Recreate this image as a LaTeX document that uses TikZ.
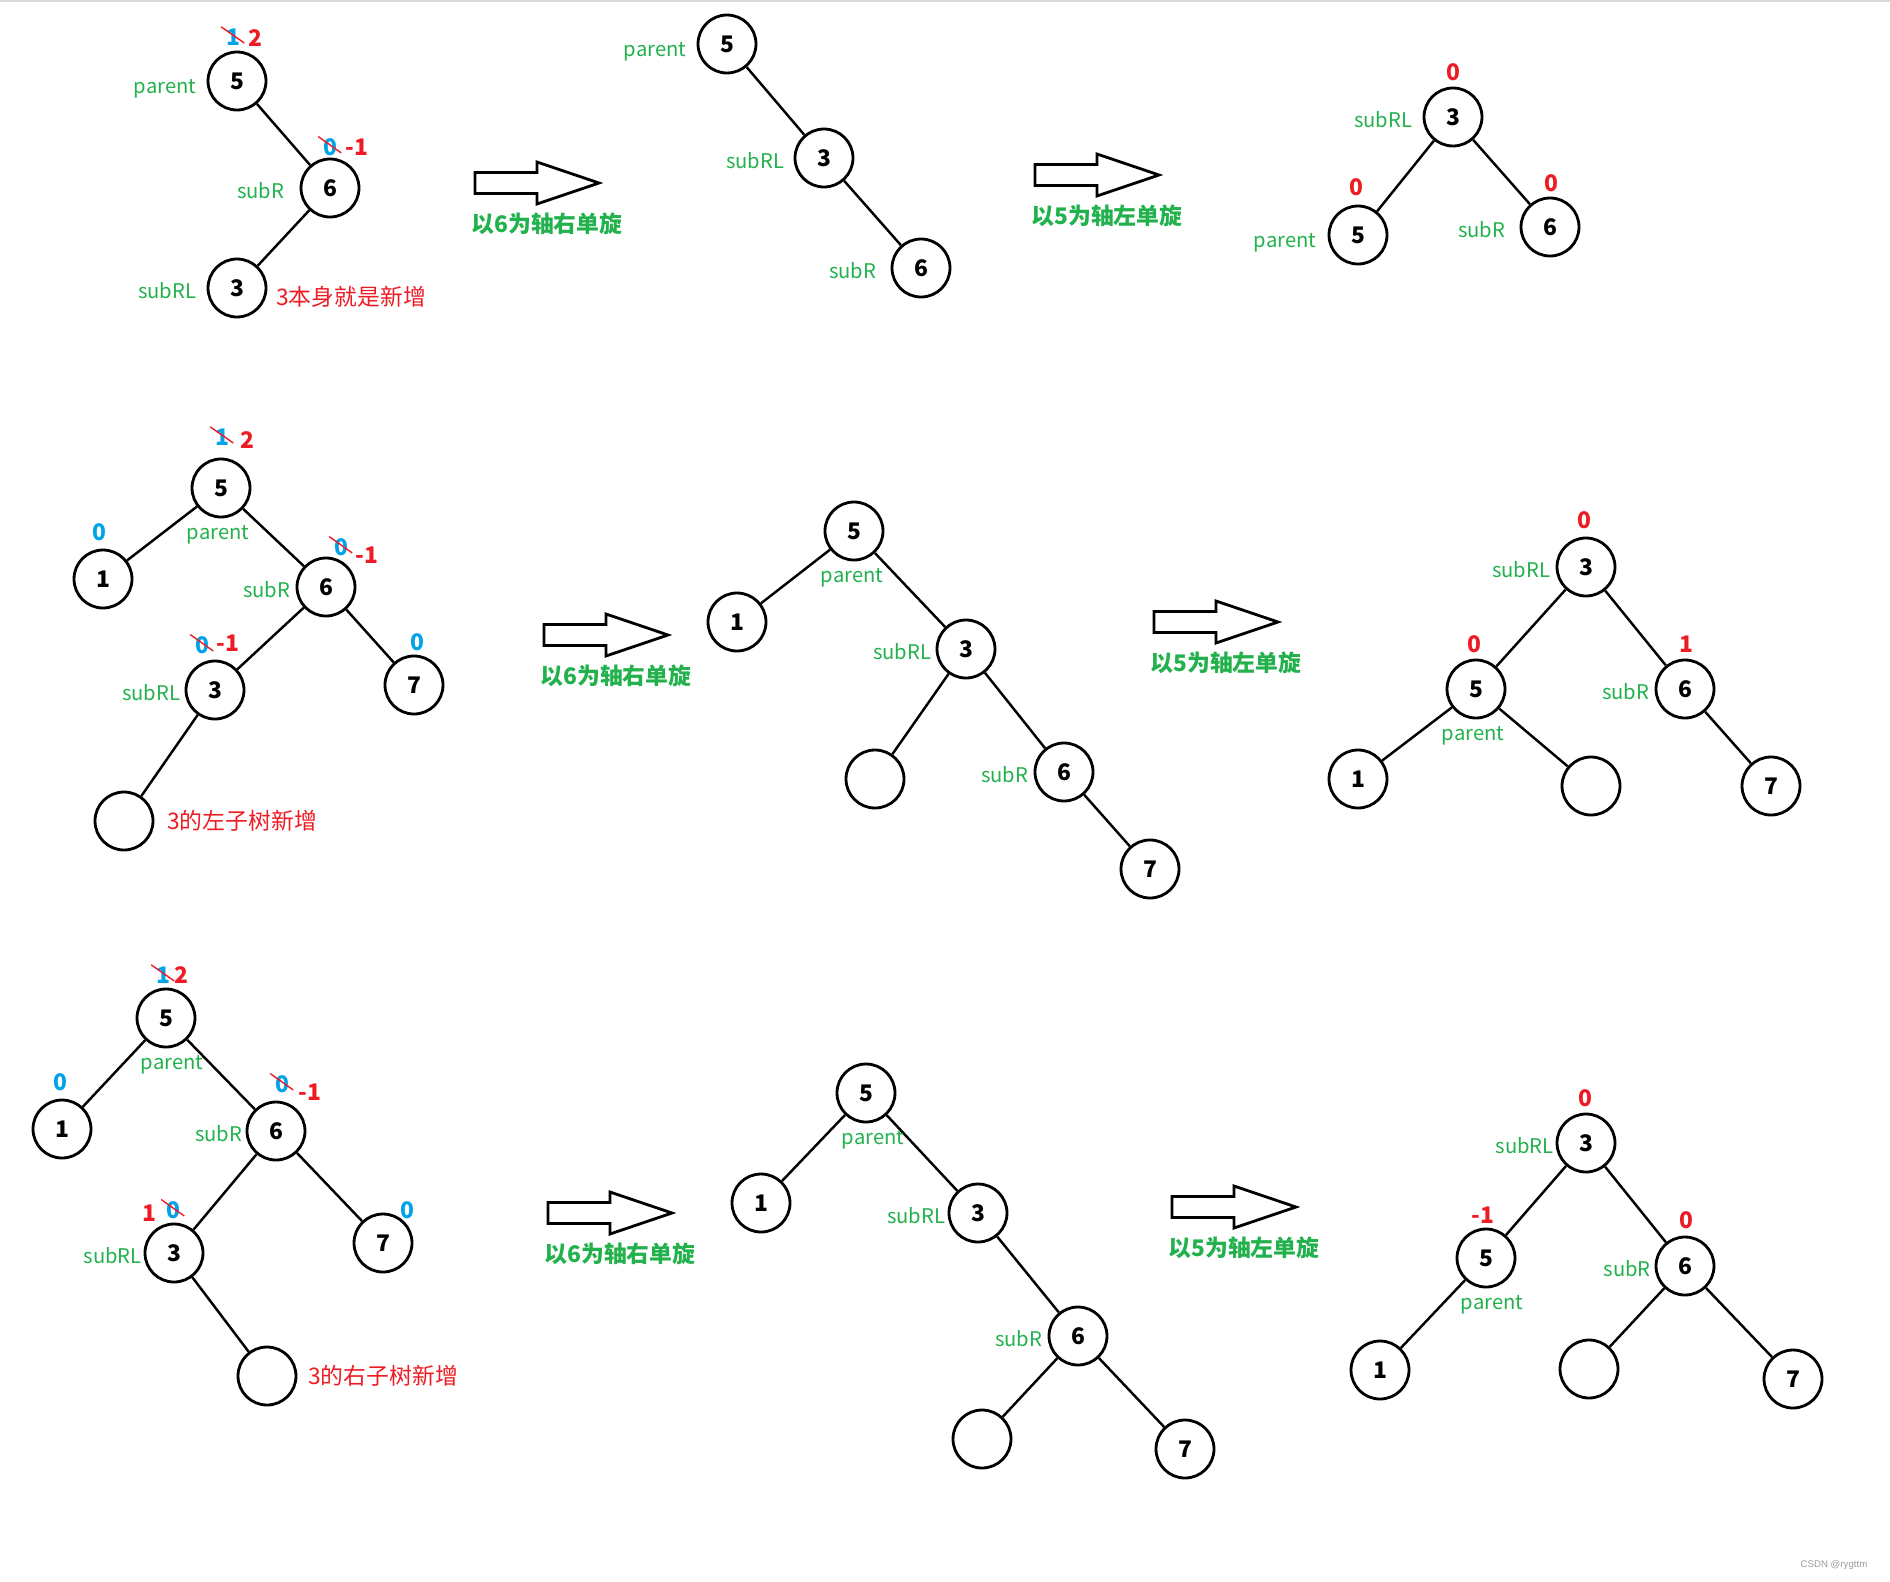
\documentclass[tikz,border=0pt]{standalone}
\usepackage{fontspec}
\newfontfamily\cjk{Noto Sans CJK SC}
\newfontfamily\wmfont{Liberation Sans}
\usetikzlibrary{positioning}
\definecolor{taggreen}{HTML}{22B14C}
\definecolor{bfred}{HTML}{ED1C24}
\definecolor{bfblue}{HTML}{00A2E8}
\definecolor{wmgray}{HTML}{9A9A9A}

\begin{document}
\begin{tikzpicture}[x=0.02cm, y=-0.02cm,
  avl/.style={circle, draw=black, line width=1.6pt, minimum size=1.16cm, inner sep=0pt,
    font=\cjk\bfseries\fontsize{13}{13}\selectfont},
  edge/.style={line width=1.4pt},
  tag/.style={text=taggreen, inner sep=0pt, font=\cjk\fontsize{11.5}{12}\selectfont, yshift=-0.05cm},
  ptag/.style={tag, yshift=-0.1cm},
  newbf/.style={text=bfred, inner sep=0pt, font=\cjk\bfseries\fontsize{13}{13}\selectfont},
  oldbf/.style={text=bfblue, inner sep=0pt, font=\cjk\bfseries\fontsize{13}{13}\selectfont},
  strike/.style={draw=bfred, line width=0.8pt},
  note/.style={text=bfred, inner sep=0pt, font=\cjk\fontsize{13}{14}\selectfont},
  rotlabel/.style={text=taggreen, inner sep=0pt, font=\cjk\bfseries\fontsize{13}{14}\selectfont},
  hollow/.style={draw=black, line width=1.6pt, line join=miter}
]
\useasboundingbox (0,0) rectangle (1890,1582);
\draw[gray!30, line width=0.6pt] (0,1) -- (1890,1);

% row 1: new node 3 is subRL itself
\node[avl] (a5) at (237,81) {5};
\node[avl] (a6) at (330,188) {6};
\node[avl] (a3) at (237,288) {3};
\draw[edge] (a5) -- (a6); \draw[edge] (a6) -- (a3);
\node[ptag,left=0.2cm of a5] (a5t) {parent};
\node[tag,left=0.3cm of a6] (a6t) {subR};
\node[tag,left=0.2cm of a3] (a3t) {subRL};
\node[oldbf] (a5o) at (233,37) {1}; \node[newbf] (a5n) at (255,38) {2};
\node[oldbf] (a6o) at (330,147) {0}; \node[newbf] (a6n) at (357,147) {-1};
\node[note,right=0.17cm of a3,yshift=-0.18cm] (a3note) {3本身就是新增};

\node[avl] (b5) at (727,44) {5};
\node[avl] (b3) at (824,158) {3};
\node[avl] (b6) at (921,268) {6};
\draw[edge] (b5) -- (b3); \draw[edge] (b3) -- (b6);
\node[ptag,left=0.2cm of b5] (b5t) {parent};
\node[tag,left=0.18cm of b3] (b3t) {subRL};
\node[tag,left=0.28cm of b6] (b6t) {subR};

\node[avl] (c3) at (1453,117) {3};
\node[avl] (c5) at (1358,235) {5};
\node[avl] (c6) at (1550,227) {6};
\draw[edge] (c3) -- (c5); \draw[edge] (c3) -- (c6);
\node[tag,left=0.2cm of c3] (c3t) {subRL};
\node[ptag,left=0.22cm of c5] (c5t) {parent};
\node[tag,left=0.28cm of c6] (c6t) {subR};
\node[newbf] (c3n) at (1453,72) {0};
\node[newbf] (c5n) at (1356,187) {0};
\node[newbf] (c6n) at (1551,183) {0};

% row 2: new node in the left subtree of 3
\node[avl] (d5) at (221,488) {5};
\node[avl] (d1) at (103,579) {1};
\node[avl] (d6) at (326,587) {6};
\node[avl] (d3) at (215,690) {3};
\node[avl] (d7) at (414,685) {7};
\node[avl] (dn) at (124,821) {};
\draw[edge] (d5) -- (d1); \draw[edge] (d5) -- (d6);
\draw[edge] (d6) -- (d3); \draw[edge] (d6) -- (d7); \draw[edge] (d3) -- (dn);
\node[tag,below=0.09cm of d5,xshift=-0.06cm] (d5t) {parent};
\node[tag,left=0.1cm of d6] (d6t) {subR};
\node[tag,left=0.08cm of d3] (d3t) {subRL};
\node[oldbf] (d5o) at (222,437) {1}; \node[newbf] (d5n) at (247,440) {2};
\node[oldbf] (d1b) at (99,532) {0};
\node[oldbf] (d6o) at (341,547) {0}; \node[newbf] (d6n) at (367,555) {-1};
\node[oldbf] (d3o) at (202,645) {0}; \node[newbf] (d3n) at (228,643) {-1};
\node[oldbf] (d7b) at (417,642) {0};
\node[note,right=0.25cm of dn] (dnote) {3的左子树新增};

\node[avl] (e5) at (854,531) {5};
\node[avl] (e1) at (737,622) {1};
\node[avl] (e3) at (966,649) {3};
\node[avl] (en) at (875,779) {};
\node[avl] (e6) at (1064,772) {6};
\node[avl] (e7) at (1150,869) {7};
\draw[edge] (e5) -- (e1); \draw[edge] (e5) -- (e3);
\draw[edge] (e3) -- (en); \draw[edge] (e3) -- (e6); \draw[edge] (e6) -- (e7);
\node[tag,below=0.09cm of e5,xshift=-0.04cm] (e5t) {parent};
\node[tag,left=0.08cm of e3] (e3t) {subRL};
\node[tag,left=0.1cm of e6] (e6t) {subR};

\node[avl] (f3) at (1586,567) {3};
\node[avl] (f5) at (1476,689) {5};
\node[avl] (f6) at (1685,689) {6};
\node[avl] (f1) at (1358,779) {1};
\node[avl] (fn) at (1591,786) {};
\node[avl] (f7) at (1771,786) {7};
\draw[edge] (f3) -- (f5); \draw[edge] (f3) -- (f6);
\draw[edge] (f5) -- (f1); \draw[edge] (f5) -- (fn); \draw[edge] (f6) -- (f7);
\node[tag,left=0.1cm of f3] (f3t) {subRL};
\node[tag,below=0.09cm of f5,xshift=-0.06cm] (f5t) {parent};
\node[tag,left=0.1cm of f6] (f6t) {subR};
\node[newbf] (f3n) at (1584,520) {0};
\node[newbf] (f5n) at (1474,644) {0};
\node[newbf] (f6n) at (1686,644) {1};

% row 3: new node in the right subtree of 3
\node[avl] (g5) at (166,1018) {5};
\node[avl] (g1) at (62,1129) {1};
\node[avl] (g6) at (276,1131) {6};
\node[avl] (g3) at (174,1253) {3};
\node[avl] (g7) at (383,1243) {7};
\node[avl] (gn) at (267,1376) {};
\draw[edge] (g5) -- (g1); \draw[edge] (g5) -- (g6);
\draw[edge] (g6) -- (g3); \draw[edge] (g6) -- (g7); \draw[edge] (g3) -- (gn);
\node[tag,below=0.09cm of g5,xshift=0.12cm] (g5t) {parent};
\node[tag,left=0.06cm of g6] (g6t) {subR};
\node[tag,left=0.03cm of g3] (g3t) {subRL};
\node[oldbf] (g5o) at (163,975) {1}; \node[newbf] (g5n) at (181,975) {2};
\node[oldbf] (g1b) at (60,1082) {0};
\node[oldbf] (g6o) at (282,1084) {0}; \node[newbf] (g6n) at (310,1092) {-1};
\node[newbf] (g3n) at (149,1213) {1}; \node[oldbf] (g3o) at (173,1210) {0};
\node[oldbf] (g7b) at (407,1210) {0};
\node[note,right=0.21cm of gn] (gnote) {3的右子树新增};

\node[avl] (h5) at (866,1093) {5};
\node[avl] (h1) at (761,1203) {1};
\node[avl] (h3) at (978,1213) {3};
\node[avl] (h6) at (1078,1336) {6};
\node[avl] (hn) at (982,1439) {};
\node[avl] (h7) at (1185,1449) {7};
\draw[edge] (h5) -- (h1); \draw[edge] (h5) -- (h3);
\draw[edge] (h3) -- (h6); \draw[edge] (h6) -- (hn); \draw[edge] (h6) -- (h7);
\node[tag,below=0.09cm of h5,xshift=0.14cm] (h5t) {parent};
\node[tag,left=0.04cm of h3] (h3t) {subRL};
\node[tag,left=0.1cm of h6] (h6t) {subR};

\node[avl] (k3) at (1586,1143) {3};
\node[avl] (k5) at (1486,1258) {5};
\node[avl] (k6) at (1685,1266) {6};
\node[avl] (k1) at (1380,1370) {1};
\node[avl] (kn) at (1589,1369) {};
\node[avl] (k7) at (1793,1379) {7};
\draw[edge] (k3) -- (k5); \draw[edge] (k3) -- (k6);
\draw[edge] (k5) -- (k1); \draw[edge] (k6) -- (kn); \draw[edge] (k6) -- (k7);
\node[tag,left=0.03cm of k3] (k3t) {subRL};
\node[tag,below=0.09cm of k5,xshift=0.12cm] (k5t) {parent};
\node[tag,left=0.07cm of k6] (k6t) {subR};
\node[newbf] (k3n) at (1585,1098) {0};
\node[newbf] (k5n) at (1483,1215) {-1};
\node[newbf] (k6n) at (1686,1220) {0};

% crossed-out old balance factors
\foreach \o in {a5o,a6o,d5o,d6o,d3o,g5o,g6o,g3o}
  \draw[strike] ([shift={(-0.09cm,0.03cm)}]\o.north west) -- ([shift={(0.08cm,-0.12cm)}]\o.east);

% rotation arrows
\foreach \x/\y/\txt [count=\i] in {475/183/以6为轴右单旋, 1035/175/以5为轴左单旋,
    544/635/以6为轴右单旋, 1154/622/以5为轴左单旋, 548/1213/以6为轴右单旋, 1172/1207/以5为轴左单旋} {
  \draw[hollow,shift={(\x,\y)}] (0,-10.5) -- (62,-10.5) -- (62,-21) -- (124,0)
    -- (62,21) -- (62,10.5) -- (0,10.5) -- cycle;
  \node[rotlabel] (rot\i) at (\x+72,\y+41) {\txt};
}

\node[text=wmgray, inner sep=0pt, font=\wmfont\fontsize{5.5}{6}\selectfont] (wm) at (1834,1565) {CSDN @rygttm};
\end{tikzpicture}
\end{document}
